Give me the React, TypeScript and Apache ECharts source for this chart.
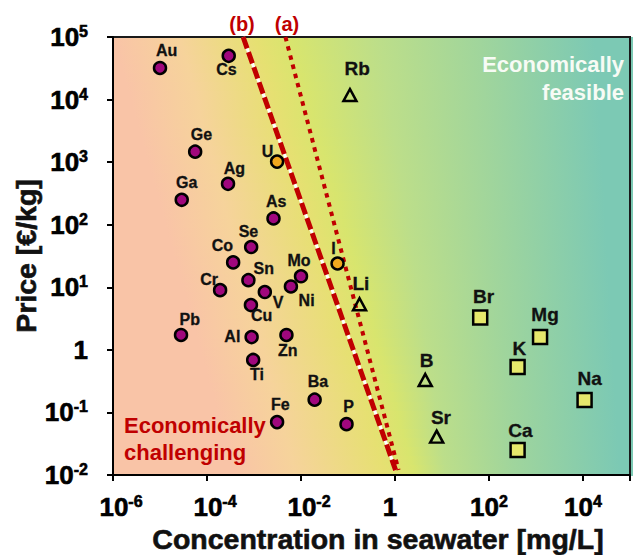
import React, { useEffect, useRef } from 'react';
import * as echarts from 'echarts';

// ---------- data ----------
const circleNames = ['Au', 'Cs', 'Ge', 'Ag', 'Ga', 'As', 'Se', 'Co', 'Sn', 'Cr', 'V', 'Mo', 'Ni', 'Cu', 'Pb', 'Al', 'Zn', 'Ti', 'Fe', 'Ba', 'P'];
const circleConc = [1.0e-5, 2.9e-4, 5.6e-5, 2.8e-4, 2.9e-5, 2.6e-3, 8.7e-4, 3.6e-4, 7.6e-4, 1.9e-4, 1.7e-3, 1.0e-2, 6.1e-3, 8.6e-4, 2.8e-5, 8.9e-4, 4.9e-3, 9.6e-4, 3.1e-3, 1.95e-2, 9.3e-2];
const circlePrice = [32000, 50000, 1470, 450, 250, 126, 44, 25, 13, 9, 8.4, 15, 10.3, 5.2, 1.73, 1.6, 1.73, 0.69, 0.07, 0.16, 0.065];

const orangeNames = ['U', 'I'];
const orangeConc = [3.1e-3, 6.0e-2];
const orangePrice = [1020, 24];

const triNames = ['Rb', 'Li', 'B', 'Sr'];
const triConc = [0.11, 0.176, 4.4, 7.7];
const triPrice = [11800, 5.35, 0.33, 0.041];

const sqNames = ['Br', 'Mg', 'K', 'Na', 'Ca'];
const sqConc = [65, 1220, 406, 10800, 406];
const sqPrice = [3.3, 1.6, 0.53, 0.158, 0.025];

const lineAConc = [4.66e-3, 1.19];
const lineAPrice = [1e5, 0.012];
const lineBConc = [5.87e-4, 1.03];
const lineBPrice = [1e5, 0.012];

const xExpMin = -6;
const xExpMax = 5;
const yExpMin = -2;
const yExpMax = 5;

// ---------- styling ----------
const FONT = '"Liberation Sans", Arial, sans-serif';
const RED = '#C00000';
const GRID = { left: 113, top: 37, width: 530, height: 438 };

const labelOffsets: Record<string, [number, number]> = {
  Au: [6.7, -17.7], Cs: [-2.3, 14], Ge: [6.3, -16.7], Ag: [6.3, -15.3], Ga: [5, -17.3],
  As: [2.7, -16.7], Se: [-2.7, -15.3], Co: [-10.7, -16.7], Sn: [15.3, -11.7], Cr: [-11, -11],
  V: [13.3, 10.7], Mo: [-2, -16], Ni: [15.7, 14], Cu: [10.7, 10.7], Pb: [8.7, -15.7],
  Al: [-19.3, -0.7], Zn: [1.3, 15.7], Ti: [3.7, 15], Fe: [3.3, -18], Ba: [3.3, -18.3],
  P: [2, -18], U: [-9.6, -10], I: [-4, -15], Rb: [7.3, -26.7], Li: [1.3, -21],
  B: [1.3, -19.3], Sr: [4.3, -19], Br: [3.3, -21.3], Mg: [5, -22.3], K: [1.7, -19],
  Na: [5, -21.7], Ca: [2.7, -20],
};

const bgColors = ['#F9C4A7', '#F6D39B', '#E6E072', '#D8E56E', '#BCDE8A', '#A0D59C', '#7CC9B4'];
const bgTopX = [113, 180, 255, 290, 380, 480, 595];
const bgBotX = [235, 296, 385, 415, 446, 513, 620];

function buildBackground() {
  const N = 48;
  const h = GRID.height / N;
  const els: any[] = [];
  for (let i = 0; i < N; i++) {
    const y0 = GRID.top + i * h;
    const f = (i + 0.5) / N;
    const stops: any[] = [];
    bgColors.forEach((c, k) => {
      const x = bgTopX[k] + f * (bgBotX[k] - bgTopX[k]);
      const off = Math.min(1, Math.max(0, (x - GRID.left) / GRID.width));
      stops.push({ offset: off, color: c });
    });
    if (stops[0].offset > 0) stops.unshift({ offset: 0, color: bgColors[0] });
    if (stops[stops.length - 1].offset < 1) stops.push({ offset: 1, color: bgColors[bgColors.length - 1] });
    els.push({
      type: 'rect',
      silent: true,
      z: -10,
      shape: { x: GRID.left, y: Math.floor(y0), width: GRID.width, height: Math.ceil(h) + 1 },
      style: {
        fill: { type: 'linear', x: 0, y: 0, x2: 1, y2: 0, colorStops: stops },
      },
    });
  }
  return els;
}

function pts(names: string[], conc: number[], price: number[]) {
  return names.map((n, i) => ({
    name: n,
    value: [Math.log10(conc[i]), Math.log10(price[i])],
    label: { offset: labelOffsets[n] || [0, -16] },
  }));
}

function labelStyle(size: number) {
  return {
    show: true,
    position: 'inside',
    formatter: '{b}',
    color: '#111',
    fontFamily: FONT,
    fontWeight: 'bold',
    fontSize: size,
    textBorderColor: '#111',
    textBorderWidth: 0.3,
  };
}

const heavy = { textBorderColor: '#000', textBorderWidth: 0.6 };
const richAxis = {
  b: { fontSize: 26, fontWeight: 'bold', fontFamily: FONT, color: '#000', lineHeight: 27, ...heavy },
  bn: { fontSize: 26, fontWeight: 'bold', fontFamily: FONT, color: '#000', lineHeight: 27, padding: [0, 0, 0, 16], ...heavy },
  one: { fontSize: 26, fontWeight: 'bold', fontFamily: FONT, color: '#000', lineHeight: 27, padding: [0, 10, 0, 0], ...heavy },
  s: { fontSize: 16, fontWeight: 'bold', fontFamily: FONT, color: '#000', verticalAlign: 'top', lineHeight: 16, ...heavy },
};

const titleStyle = {
  fill: '#111', fontFamily: FONT, fontWeight: 'bold', fontSize: 28.5,
  textAlign: 'center', textVerticalAlign: 'middle', stroke: '#111', lineWidth: 0.6,
};

export default function App() {
  const ref = useRef<HTMLDivElement>(null);
  useEffect(() => {
    if (!ref.current) return;
    const chart = echarts.init(ref.current, undefined, { renderer: 'svg' });
    const option: any = {
      animation: false,
      backgroundColor: '#ffffff',
      grid: {
        left: GRID.left, top: GRID.top, width: GRID.width, height: GRID.height,
        show: true, borderColor: '#1a1a1a', borderWidth: 2, backgroundColor: 'transparent',
      },
      xAxis: {
        type: 'value', min: xExpMin, max: xExpMax, interval: 2,
        axisLine: { show: true, onZero: false, lineStyle: { color: '#000', width: 2 } },
        axisTick: { show: true, length: 6, lineStyle: { color: '#000', width: 2 } },
        splitLine: { show: false },
        axisLabel: {
          margin: 18,
          formatter: (v: number) => {
            const n = Math.round(v);
            if (Math.abs(v - n) > 1e-6 || n === xExpMax) return '';
            if (n === 0) return '{one|1}';
            if (n < 0) return `{bn|10}{s|${n}}`;
            return `{b|10}{s|${n}}`;
          },
          rich: richAxis,
        },
      },
      yAxis: {
        type: 'value', min: yExpMin, max: yExpMax, interval: 1,
        axisLine: { show: true, onZero: false, lineStyle: { color: '#000', width: 2 } },
        axisTick: { show: true, length: 6, lineStyle: { color: '#000', width: 2 } },
        splitLine: { show: false },
        axisLabel: {
          margin: 25,
          formatter: (v: number) => {
            const n = Math.round(v);
            if (n === 0) return '{b|1}';
            return `{b|10}{s|${n}}`;
          },
          rich: richAxis,
        },
      },
      graphic: [
        ...buildBackground(),
        {
          type: 'text', x: 378, y: 539, z: 10,
          style: { text: 'Concentration in seawater [mg/L]', ...titleStyle },
        },
        {
          type: 'text', x: 26, y: 256, rotation: Math.PI / 2, z: 10,
          style: { text: 'Price [€/kg]', ...titleStyle },
        },
        {
          type: 'text', x: 242, y: 24, z: 10,
          style: { text: '(b)', fill: RED, fontFamily: FONT, fontWeight: 'bold', fontSize: 20, textAlign: 'center', textVerticalAlign: 'middle' },
        },
        {
          type: 'text', x: 287, y: 24, z: 10,
          style: { text: '(a)', fill: RED, fontFamily: FONT, fontWeight: 'bold', fontSize: 20, textAlign: 'center', textVerticalAlign: 'middle' },
        },
        {
          type: 'text', x: 124, y: 425, z: 10,
          style: { text: 'Economically', fill: RED, fontFamily: FONT, fontWeight: 'bold', fontSize: 22, textAlign: 'left', textVerticalAlign: 'middle' },
        },
        {
          type: 'text', x: 124, y: 452, z: 10,
          style: { text: 'challenging', fill: RED, fontFamily: FONT, fontWeight: 'bold', fontSize: 22, textAlign: 'left', textVerticalAlign: 'middle' },
        },
        {
          type: 'text', x: 624, y: 64, z: 10,
          style: { text: 'Economically', fill: '#F7FBF5', fontFamily: FONT, fontWeight: 'bold', fontSize: 22, textAlign: 'right', textVerticalAlign: 'middle' },
        },
        {
          type: 'text', x: 624, y: 92, z: 10,
          style: { text: 'feasible', fill: '#F7FBF5', fontFamily: FONT, fontWeight: 'bold', fontSize: 22, textAlign: 'right', textVerticalAlign: 'middle' },
        },
      ],
      series: [
        {
          type: 'line', z: 1, symbol: 'none', silent: true,
          data: lineAConc.map((c, i) => [Math.log10(c), Math.log10(lineAPrice[i])]),
          lineStyle: { color: RED, width: 4, type: [4.5, 5], cap: 'butt' },
        },
        {
          type: 'line', z: 1, symbol: 'none', silent: true,
          data: lineBConc.map((c, i) => [Math.log10(c), Math.log10(lineBPrice[i])]),
          lineStyle: { color: '#ffffff', width: 3 },
        },
        {
          type: 'line', z: 1, symbol: 'none', silent: true,
          data: lineBConc.map((c, i) => [Math.log10(c), Math.log10(lineBPrice[i])]),
          lineStyle: { color: RED, width: 5, type: [12, 4], cap: 'butt' },
        },
        {
          type: 'scatter', z: 3, symbol: 'circle', symbolSize: 12,
          data: pts(circleNames, circleConc, circlePrice),
          itemStyle: { color: '#A0077D', borderColor: '#000', borderWidth: 2.5, opacity: 1 },
          label: labelStyle(16),
        },
        {
          type: 'scatter', z: 3, symbol: 'circle', symbolSize: 12,
          data: pts(orangeNames, orangeConc, orangePrice),
          itemStyle: { color: '#F0A81E', borderColor: '#000', borderWidth: 2.5, opacity: 1 },
          label: labelStyle(16),
        },
        {
          type: 'scatter', z: 3, symbol: 'triangle', symbolSize: [13, 12],
          data: pts(triNames, triConc, triPrice),
          itemStyle: { color: 'rgba(0,0,0,0)', borderColor: '#000', borderWidth: 2.5, opacity: 1 },
          label: labelStyle(19),
        },
        {
          type: 'scatter', z: 3, symbol: 'rect', symbolSize: 14,
          data: pts(sqNames, sqConc, sqPrice),
          itemStyle: { color: '#E6E86C', borderColor: '#000', borderWidth: 2.5, opacity: 1 },
          label: labelStyle(19),
        },
      ],
    };
    chart.setOption(option);
    return () => chart.dispose();
  }, []);
  return (
    <div
      ref={ref}
      style={{ position: 'fixed', left: 0, top: 0, width: 633, height: 555, background: '#fff' }}
    />
  );
}
